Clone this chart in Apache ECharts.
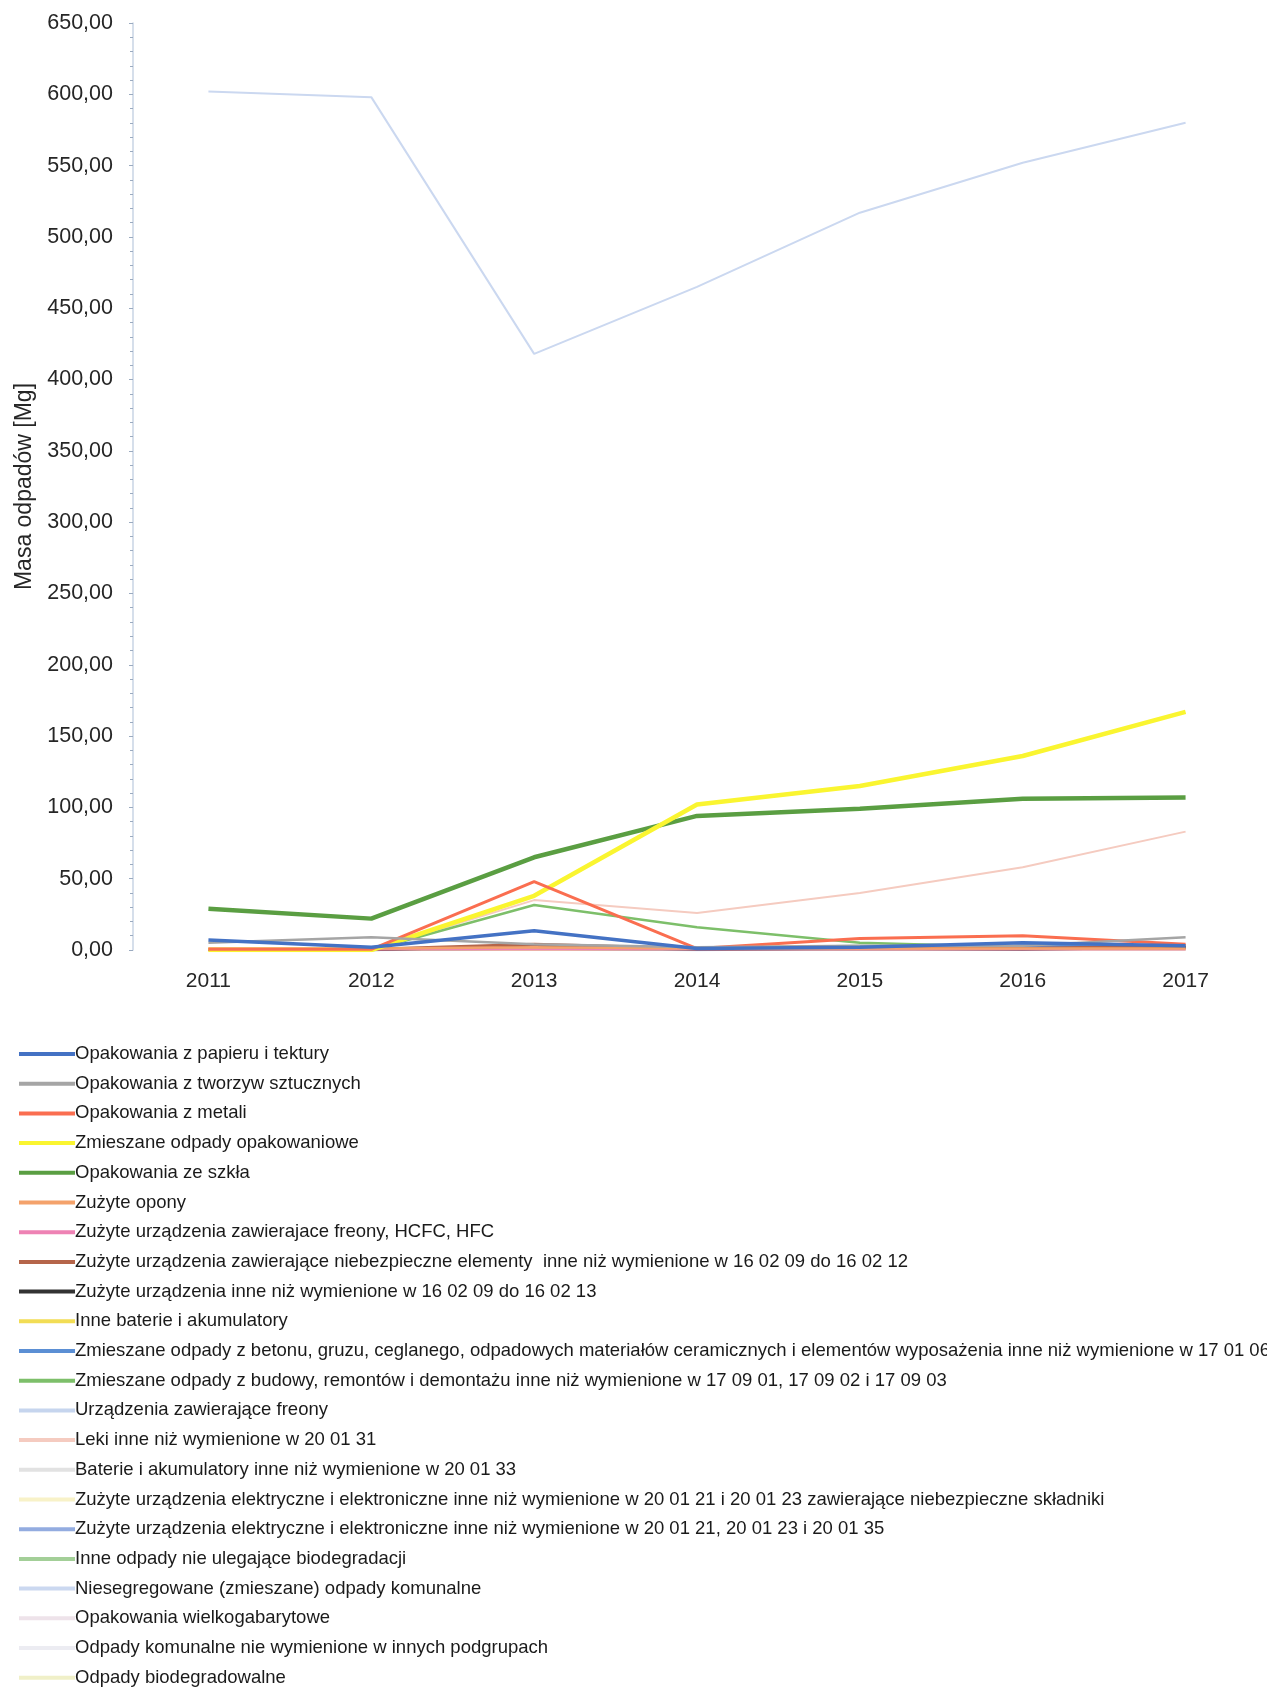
<!DOCTYPE html>
<html>
<head>
<meta charset="utf-8">
<script src="https://cdn.jsdelivr.net/npm/echarts@6/dist/echarts.min.js"></script>
<style>
html,body{margin:0;padding:0;background:#fff;}
#chart{width:1267px;height:1689px;}
</style>
</head>
<body>
<div id="chart"></div>
<script>
const years = ['2011','2012','2013','2014','2015','2016','2017'];
const yTicks = {min: 0, max: 650, interval: 50};

const seriesNames = [
  'Opakowania z papieru i tektury',
  'Opakowania z tworzyw sztucznych',
  'Opakowania z metali',
  'Zmieszane odpady opakowaniowe',
  'Opakowania ze szkła',
  'Zużyte opony',
  'Zużyte urządzenia zawierajace freony, HCFC, HFC',
  'Zużyte urządzenia zawierające niebezpieczne elementy  inne niż wymienione w 16 02 09 do 16 02 12',
  'Zużyte urządzenia inne niż wymienione w 16 02 09 do 16 02 13',
  'Inne baterie i akumulatory',
  'Zmieszane odpady z betonu, gruzu, ceglanego, odpadowych materiałów ceramicznych i elementów wyposażenia inne niż wymienione w 17 01 06',
  'Zmieszane odpady z budowy, remontów i demontażu inne niż wymienione w 17 09 01, 17 09 02 i 17 09 03',
  'Urządzenia zawierające freony',
  'Leki inne niż wymienione w 20 01 31',
  'Baterie i akumulatory inne niż wymienione w 20 01 33',
  'Zużyte urządzenia elektryczne i elektroniczne inne niż wymienione w 20 01 21 i 20 01 23 zawierające niebezpieczne składniki',
  'Zużyte urządzenia elektryczne i elektroniczne inne niż wymienione w 20 01 21, 20 01 23 i 20 01 35',
  'Inne odpady nie ulegające biodegradacji',
  'Niesegregowane (zmieszane) odpady komunalne',
  'Opakowania wielkogabarytowe',
  'Odpady komunalne nie wymienione w innych podgrupach',
  'Odpady biodegradowalne'
];

const paper          = [7, 2, 13.5, 1, 2, 5, 3];
const plastic        = [5, 9, 4, 2, 3, 3, 9];
const metal          = [0.5, 0.5, 48, 1, 8, 10, 4];
const mixedPackaging = [0, 0, 38, 102, 115, 136, 167];
const glass          = [29, 22, 65, 94, 99, 106, 107];
const tyres          = [1, 1, 2, 1, 1, 1, 1];
const freonHcfc      = [0.3, 0.3, 0.5, 0.3, 0.3, 0.3, 0.3];
const hazardousDev   = [0.5, 0.5, 4, 1, 2, 1, 3];
const otherDevices   = [0.2, 0.2, 3, 0.5, 1, 0.5, 2];
const otherBatteries = [0.2, 0.2, 0.5, 0.3, 0.5, 0.5, 0.5];
const concrete       = [0, 0, 1, 0, 1, 3, 2];
const construction   = [0, 0, 31.5, 16, 5, 2, 2];
const freonDevices   = [0.5, 0.5, 1, 0.5, 1, 2, 2];
const medicines      = [0, 0, 35, 26, 40, 58, 83];
const batteries      = [0.1, 0.1, 0.2, 0.2, 0.3, 0.3, 0.3];
const elecHazardous  = [0.2, 0.2, 0.5, 0.5, 0.5, 0.5, 0.5];
const elecOther      = [0, 0, 0.5, 0.5, 1, 1, 2];
const nonBio         = [0, 0, 1, 2, 3, 2, 1];
const mixedMunicipal = [602, 598, 418, 465, 517, 552, 580];
const bulky          = [0.2, 0.2, 0.3, 0.3, 0.3, 0.3, 0.3];
const otherMunicipal = [0.1, 0.1, 0.2, 0.2, 0.2, 0.2, 0.2];
const biodegradable  = [0.1, 0.1, 0.2, 0.2, 0.2, 0.2, 0.2];

const seriesValues = [paper, plastic, metal, mixedPackaging, glass, tyres, freonHcfc,
  hazardousDev, otherDevices, otherBatteries, concrete, construction, freonDevices,
  medicines, batteries, elecHazardous, elecOther, nonBio, mixedMunicipal, bulky,
  otherMunicipal, biodegradable];

const colors = ['#4472C4','#A5A5A5','#FA6E50','#FAF530','#5A9E42','#F4A26B','#EE82B4',
  '#B5654A','#333333','#F2DD55','#5B8FD4','#7DBF6A','#C6D5EE','#F5CBC0','#E2E2E2',
  '#F8F2C8','#93ACE0','#A3CF98','#CBD8F0','#EEE3EA','#ECECF2','#F0F0C8'];
const widths = [3.5,2.5,3,4.5,4.5,2.5,2,3,3,2,2.5,2.5,2,2,2,2,2,2,2,2,2,2];

const chart = echarts.init(document.getElementById('chart'));
const font = "'Liberation Sans', Arial, sans-serif";

chart.setOption({
  animation: false,
  backgroundColor: '#fff',
  grid: {left: 127, right: -1, top: 23, height: 927, containLabel: false},
  xAxis: {
    type: 'category',
    data: years,
    boundaryGap: true,
    axisLine: {show: false},
    axisTick: {show: false},
    axisLabel: {color: '#262626', fontSize: 21, fontFamily: font, margin: 21}
  },
  yAxis: {
    type: 'value',
    offset: -6,
    min: yTicks.min, max: yTicks.max, interval: yTicks.interval,
    name: 'Masa odpadów [Mg]',
    nameLocation: 'middle',
    nameGap: 96,
    nameTextStyle: {color: '#262626', fontSize: 23, fontFamily: font},
    axisLine: {show: true, lineStyle: {color: '#c8d4e4', width: 1.5}},
    axisTick: {show: true, length: 4, lineStyle: {color: '#9aaac0'}},
    minorTick: {show: true, splitNumber: 5, length: 3, lineStyle: {color: '#9aaac0'}},
    splitLine: {show: false},
    axisLabel: {
      color: '#262626', fontSize: 21.5, fontFamily: font, margin: 20,
      formatter: v => v.toFixed(2).replace('.', ',')
    }
  },
  legend: {
    orient: 'vertical',
    left: 14,
    top: 1039,
    height: 680,
    icon: 'rect',
    itemWidth: 56,
    itemHeight: 4,
    itemGap: 9.7,
    textStyle: {color: '#1a1a1a', fontSize: 18.5, fontFamily: font, lineHeight: 20, padding: [0,0,0,-5]},
    data: seriesNames
  },
  series: seriesNames.map((n, i) => ({
    name: n,
    type: 'line',
    data: seriesValues[i],
    symbol: 'none',
    showSymbol: false,
    color: colors[i],
    lineStyle: {color: colors[i], width: widths[i]},
    z: 22 - i
  }))
});
</script>
</body>
</html>
